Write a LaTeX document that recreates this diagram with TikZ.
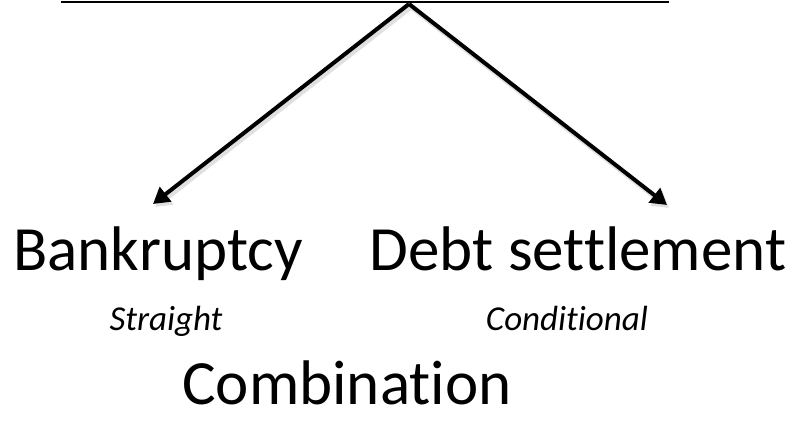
\documentclass[tikz,border=0pt]{standalone}
\usepackage{fontspec}
\setmainfont{Carlito}[Ligatures=NoCommon]
\tikzset{
every picture/.style={
line width=4pt
}}
\usetikzlibrary{arrows.meta}
\tikzset{
  big/.style={font=\fontsize{63}{72}\selectfont, inner sep=0pt, anchor=base},
  kind/.style={font=\fontsize{35}{42}\selectfont\itshape, inner sep=0pt, anchor=base},
  branch/.style={-{Triangle[length=16pt,width=18pt]}},
  shade/.style={branch, black!12, line width=5pt}
}

\begin{document}
\begin{tikzpicture}[x=1pt,y=1pt]
  \useasboundingbox (0,0) rectangle (796,424);

  % top bar and the point where it splits
  \coordinate (barL) at (61,422);
  \coordinate (barR) at (669,422);
  \coordinate (split) at (409,420);
  \draw[line width=2pt] (barL) -- (barR);

  % arrow tips, with a soft shadow under them
  \coordinate (tipL) at (153,220);
  \coordinate (tipR) at (667,219);
  \draw[shade] ([shift={(2,-3)}]split) -- ([shift={(2,-3)}]tipL);
  \draw[shade] ([shift={(2,-3)}]split) -- ([shift={(2,-3)}]tipR);
  \draw[branch] (split) -- (tipL);
  \draw[branch] (split) -- (tipR);

  \node[big] (bank) at (158,154) {Bankruptcy};
  \node[big] (debt) at (578,154) {Debt settlement};
  \node[kind] (straight) at (166,94) {Straight};
  \node[kind] (cond) at (567,94) {Conditional};
  \node[big] (comb) at (347,20) {Combination};
\end{tikzpicture}
\end{document}
